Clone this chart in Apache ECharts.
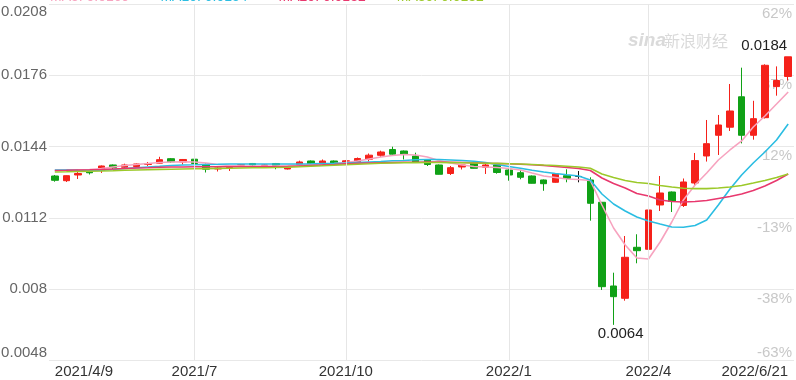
<!DOCTYPE html>
<html>
<head>
<meta charset="utf-8">
<script src="https://cdn.jsdelivr.net/npm/echarts@6/dist/echarts.min.js"></script>
<style>
    html, body { margin: 0; padding: 0; background: #fff; }
    #kline { width: 796px; height: 380px; }
</style>
</head>
<body>
<div id="kline"></div>
<script>
// 周K线日期
var weekDates = [
    '2021/4/9', '2021/4/16', '2021/4/23', '2021/4/30', '2021/5/7', '2021/5/14', '2021/5/21', '2021/5/28',
    '2021/6/4', '2021/6/11', '2021/6/18', '2021/6/25', '2021/7/2', '2021/7/9', '2021/7/16', '2021/7/23',
    '2021/7/30', '2021/8/6', '2021/8/13', '2021/8/20', '2021/8/27', '2021/9/3', '2021/9/10', '2021/9/17',
    '2021/9/24', '2021/10/1', '2021/10/8', '2021/10/15', '2021/10/22', '2021/10/29', '2021/11/5', '2021/11/12',
    '2021/11/19', '2021/11/26', '2021/12/3', '2021/12/10', '2021/12/17', '2021/12/24', '2021/12/31', '2022/1/7',
    '2022/1/14', '2022/1/21', '2022/1/28', '2022/2/4', '2022/2/11', '2022/2/18', '2022/2/25', '2022/3/4',
    '2022/3/11', '2022/3/18', '2022/3/25', '2022/4/1', '2022/4/8', '2022/4/15', '2022/4/22', '2022/4/29',
    '2022/5/6', '2022/5/13', '2022/5/20', '2022/5/27', '2022/6/3', '2022/6/10', '2022/6/17', '2022/6/21'
];

// [open, close, low, high]
var kData = [
    [0.013081, 0.012888, 0.012825, 0.013126], [0.012870, 0.013095, 0.012812, 0.013104],
    [0.013126, 0.013193, 0.012946, 0.013261], [0.013261, 0.013225, 0.013148, 0.013395],
    [0.013328, 0.013530, 0.013216, 0.013552], [0.013575, 0.013463, 0.013373, 0.013597],
    [0.013472, 0.013575, 0.013418, 0.013633], [0.013507, 0.013620, 0.013485, 0.013642],
    [0.013597, 0.013642, 0.013530, 0.013710], [0.013656, 0.013813, 0.013642, 0.013943],
    [0.013857, 0.013719, 0.013665, 0.013889], [0.013710, 0.013822, 0.013597, 0.013844],
    [0.013835, 0.013642, 0.013530, 0.013866], [0.013575, 0.013386, 0.013238, 0.013642],
    [0.013395, 0.013440, 0.013283, 0.013530], [0.013440, 0.013463, 0.013306, 0.013575],
    [0.013561, 0.013588, 0.013530, 0.013620], [0.013642, 0.013575, 0.013530, 0.013665],
    [0.013552, 0.013575, 0.013530, 0.013597], [0.013642, 0.013552, 0.013382, 0.013665],
    [0.013395, 0.013440, 0.013373, 0.013498], [0.013588, 0.013710, 0.013543, 0.013768],
    [0.013754, 0.013620, 0.013530, 0.013777], [0.013597, 0.013754, 0.013530, 0.013822],
    [0.013754, 0.013633, 0.013543, 0.013777], [0.013665, 0.013763, 0.013642, 0.013799],
    [0.013719, 0.013866, 0.013687, 0.013911], [0.013831, 0.014015, 0.013732, 0.014091],
    [0.014010, 0.014158, 0.013934, 0.014217], [0.014270, 0.014060, 0.014024, 0.014396],
    [0.014203, 0.014055, 0.013822, 0.014226], [0.013979, 0.013710, 0.013665, 0.014127],
    [0.013799, 0.013597, 0.013530, 0.013844], [0.013575, 0.013157, 0.013148, 0.013597],
    [0.013193, 0.013454, 0.013126, 0.013530], [0.013485, 0.013575, 0.013373, 0.013620],
    [0.013687, 0.013427, 0.013418, 0.013754], [0.013472, 0.013575, 0.013171, 0.013665],
    [0.013575, 0.013238, 0.013184, 0.013620], [0.013350, 0.013126, 0.012870, 0.013395],
    [0.013229, 0.013023, 0.012933, 0.013350], [0.013081, 0.012754, 0.012745, 0.013104],
    [0.012902, 0.012736, 0.012417, 0.012924], [0.012798, 0.013171, 0.012780, 0.013193],
    [0.013095, 0.012978, 0.012798, 0.013382], [0.013059, 0.013059, 0.012798, 0.013306],
    [0.012902, 0.011856, 0.011075, 0.013023], [0.011901, 0.008113, 0.007965, 0.011914],
    [0.008144, 0.007664, 0.006400, 0.008741], [0.007592, 0.009433, 0.007484, 0.010388],
    [0.009881, 0.009729, 0.009163, 0.010465], [0.009791, 0.011555, 0.009729, 0.013171],
    [0.011780, 0.012318, 0.011510, 0.013081], [0.012363, 0.011937, 0.011465, 0.012386],
    [0.011757, 0.012812, 0.011690, 0.012969], [0.012767, 0.013772, 0.012632, 0.014113],
    [0.013979, 0.014531, 0.013728, 0.015594], [0.014908, 0.015370, 0.014024, 0.015819],
    [0.015271, 0.015998, 0.015101, 0.017210], [0.016636, 0.014908, 0.014544, 0.017942],
    [0.014908, 0.015653, 0.014710, 0.016456], [0.015698, 0.018049, 0.015662, 0.018094],
    [0.017093, 0.017367, 0.016685, 0.018000], [0.017547, 0.018430, 0.017367, 0.018430]
];

var ma5 = [
    0.013328, 0.013350, 0.013350, 0.013372, 0.013417, 0.013485, 0.013552, 0.013597, 0.013642, 0.013687,
    0.013709, 0.013718, 0.013709, 0.013664, 0.013597, 0.013552, 0.013530, 0.013530, 0.013530, 0.013530,
    0.013552, 0.013574, 0.013597, 0.013619, 0.013642, 0.013687, 0.013754, 0.013844, 0.013933, 0.014001,
    0.014046, 0.014023, 0.013933, 0.013776, 0.013664, 0.013574, 0.013507, 0.013485, 0.013462, 0.013417,
    0.013350, 0.013215, 0.013081, 0.013013, 0.012946, 0.012924, 0.012879, 0.011779, 0.010747, 0.009984,
    0.009401, 0.009356, 0.010119, 0.011016, 0.012004, 0.012677, 0.013215, 0.013799, 0.014248, 0.014652,
    0.015280, 0.015774, 0.016312, 0.016851
];
var ma10 = [
    0.013350, 0.013350, 0.013337, 0.013328, 0.013337, 0.013372, 0.013417, 0.013453, 0.013485, 0.013516,
    0.013552, 0.013574, 0.013583, 0.013597, 0.013606, 0.013619, 0.013619, 0.013619, 0.013619, 0.013619,
    0.013619, 0.013619, 0.013628, 0.013642, 0.013651, 0.013664, 0.013687, 0.013709, 0.013731, 0.013763,
    0.013776, 0.013808, 0.013821, 0.013821, 0.013799, 0.013776, 0.013745, 0.013687, 0.013597, 0.013507,
    0.013426, 0.013337, 0.013260, 0.013193, 0.013135, 0.013081, 0.012901, 0.012273, 0.011824, 0.011510,
    0.011241, 0.011061, 0.010926, 0.010792, 0.010778, 0.010859, 0.011106, 0.011779, 0.012497, 0.013126,
    0.013664, 0.014158, 0.014696, 0.015414
];
var ma20 = [
    0.013328, 0.013337, 0.013350, 0.013359, 0.013372, 0.013395, 0.013417, 0.013440, 0.013453, 0.013471,
    0.013485, 0.013485, 0.013494, 0.013494, 0.013494, 0.013494, 0.013494, 0.013494, 0.013494, 0.013498,
    0.013507, 0.013530, 0.013552, 0.013574, 0.013597, 0.013628, 0.013651, 0.013664, 0.013678, 0.013687,
    0.013696, 0.013700, 0.013709, 0.013709, 0.013700, 0.013687, 0.013673, 0.013651, 0.013642, 0.013628,
    0.013610, 0.013583, 0.013552, 0.013507, 0.013462, 0.013417, 0.013328, 0.012991, 0.012744, 0.012542,
    0.012295, 0.012183, 0.012004, 0.011936, 0.011914, 0.011936, 0.011981, 0.012071, 0.012161, 0.012273,
    0.012430, 0.012632, 0.012879, 0.013170
];
var ma30 = [
    0.013260, 0.013269, 0.013283, 0.013296, 0.013305, 0.013319, 0.013337, 0.013350, 0.013363, 0.013377,
    0.013386, 0.013395, 0.013404, 0.013413, 0.013422, 0.013431, 0.013440, 0.013449, 0.013453, 0.013462,
    0.013476, 0.013494, 0.013516, 0.013538, 0.013561, 0.013583, 0.013606, 0.013628, 0.013651, 0.013664,
    0.013673, 0.013682, 0.013687, 0.013687, 0.013682, 0.013673, 0.013664, 0.013655, 0.013646, 0.013633,
    0.013619, 0.013597, 0.013574, 0.013552, 0.013521, 0.013485, 0.013426, 0.013170, 0.013013, 0.012879,
    0.012789, 0.012744, 0.012654, 0.012587, 0.012529, 0.012515, 0.012515, 0.012542, 0.012587, 0.012654,
    0.012766, 0.012879, 0.013013, 0.013170
];

// 横轴只显示这几个刻度
var tickDates = ['2021/4/9', '2021/7/2', '2021/10/1', '2022/1/7', '2022/4/1', '2022/6/21'];
var tickLabels = ['2021/4/9', '2021/7', '2021/10', '2022/1', '2022/4', '2022/6/21'];
// 右轴涨跌幅的基准价
var basePrice = 0.012857;

var FONT = 'Arial, "Liberation Sans", sans-serif';

var dom = document.getElementById('kline');
var myChart = echarts.init(dom);

var maSeries = [
    { name: 'MA5', data: ma5, color: '#f7a3bf' },
    { name: 'MA10', data: ma10, color: '#2bbde2' },
    { name: 'MA20', data: ma20, color: '#e8386e' },
    { name: 'MA30', data: ma30, color: '#9cc92a' }
];

var series = [{
    name: 'K',
    type: 'candlestick',
    data: kData,
    barWidth: 7,
    itemStyle: {
        color: '#f5211a',
        color0: '#10a116',
        borderColor: '#f5211a',
        borderColor0: '#10a116',
        borderColorDoji: '#111',
        borderWidth: 1
    },
    markPoint: {
        symbol: 'circle',
        symbolSize: 0,
        silent: true,
        data: [
            { type: 'max', valueDim: 'highest', label: { position: 'top', distance: 3, offset: [-24, 0] } },
            { type: 'min', valueDim: 'lowest', label: { position: 'bottom', distance: 2, offset: [7, 0] } }
        ],
        label: {
            show: true,
            color: '#222',
            fontSize: 15,
            fontFamily: FONT,
            formatter: function(p) {
                return p.value.toFixed(4);
            }
        }
    },
    markLine: {
        silent: true,
        symbol: 'none',
        label: { show: false },
        lineStyle: { color: '#e6e6e6', width: 1, type: 'solid' },
        data: tickDates.slice(1, 5).map(function(d) {
            return { xAxis: d };
        })
    }
}];

maSeries.forEach(function(item) {
    series.push({
        name: item.name,
        type: 'line',
        data: item.data,
        symbol: 'none',
        silent: true,
        z: 3,
        lineStyle: { color: item.color, width: 1.6 },
        itemStyle: { color: item.color }
    });
});

var option = {
    animation: false,
    backgroundColor: '#fff',
    legend: {
        left: 40,
        top: -15,
        icon: 'none',
        itemWidth: 0,
        itemGap: 26,
        data: maSeries.map(function(item) {
            return { name: item.name, textStyle: { color: item.color, fontSize: 14, fontFamily: FONT } };
        }),
        formatter: function(name) {
            var found = maSeries.filter(function(item) { return item.name === name; })[0];
            return name + ': ' + found.data[found.data.length - 1].toFixed(4);
        }
    },
    graphic: [
        { type: 'text', left: 628, top: 31, style: { text: 'sina', fill: '#dadada', font: 'italic bold 19px Arial' } },
        { type: 'text', left: 664, top: 33, style: { text: '新浪财经', fill: '#dadada', font: '16px "Noto Sans CJK SC"' } }
    ],
    grid: {
        left: 49,
        right: 2,
        top: 4,
        bottom: 19.5,
        outerBoundsMode: 'none'
    },
    xAxis: {
        type: 'category',
        data: weekDates,
        boundaryGap: true,
        axisLine: { show: false },
        axisTick: { show: false },
        splitLine: { show: false },
        axisLabel: {
            color: '#333',
            fontSize: 15,
            fontFamily: FONT,
            margin: 4,
            alignMinLabel: 'left',
            alignMaxLabel: 'right',
            interval: function(index, value) {
                return tickDates.indexOf(value) >= 0;
            },
            formatter: function(value) {
                var i = tickDates.indexOf(value);
                return i >= 0 ? tickLabels[i] : '';
            }
        }
    },
    yAxis: [{
        type: 'value',
        position: 'left',
        min: 0.0048,
        max: 0.0208,
        interval: 0.0032,
        axisLine: { show: false },
        axisTick: { show: false },
        splitLine: { lineStyle: { color: '#e8e8e8', width: 1 } },
        axisLabel: {
            color: '#666',
            fontSize: 15,
            fontFamily: FONT,
            margin: 2,
            verticalAlignMinLabel: 'bottom',
            verticalAlignMaxLabel: 'top',
            formatter: function(v) {
                return String(+v.toFixed(4));
            }
        }
    }, {
        type: 'value',
        position: 'right',
        min: 0.0048,
        max: 0.0208,
        interval: 0.0032,
        axisLine: { show: false },
        axisTick: { show: false },
        splitLine: { show: false },
        axisLabel: {
            inside: true,
            color: '#c8c8c8',
            fontSize: 15,
            fontFamily: FONT,
            margin: 2,
            verticalAlign: 'top',
            padding: [2, 0, 0, 0],
            verticalAlignMinLabel: 'bottom',
            formatter: function(v) {
                return Math.round((v / basePrice - 1) * 100) + '%';
            }
        }
    }],
    series: series
};

myChart.setOption(option, true);
</script>
</body>
</html>
